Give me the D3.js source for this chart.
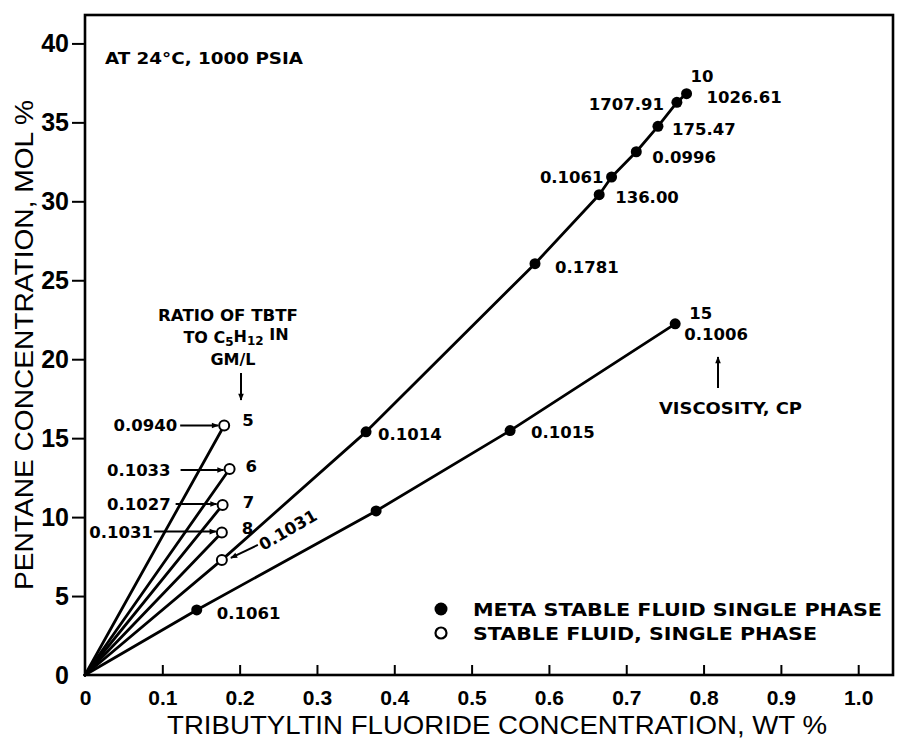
<!DOCTYPE html>
<html>
<head>
<meta charset="utf-8">
<script src="https://cdn.jsdelivr.net/npm/d3@7"></script>
<style>
  html, body { margin: 0; padding: 0; background: #fff; }
  svg { display: block; }
</style>
</head>
<body>
<script>
// Pentane vs tributyltin fluoride (TBTF) concentration at 24 °C, 1000 psia.
// Each line is one TBTF : C5H12 ratio (gm/L); point labels give viscosity in cP.

const xTicks = [0, 0.1, 0.2, 0.3, 0.4, 0.5, 0.6, 0.7, 0.8, 0.9, 1.0];
const xTickLabels = ["0", "0.1", "0.2", "0.3", "0.4", "0.5", "0.6", "0.7", "0.8", "0.9", "1.0"];
const yTicks = [0, 5, 10, 15, 20, 25, 30, 35, 40];
const yTickLabels = ["0", "5", "10", "15", "20", "25", "30", "35", "40"];

// Stable fluid, single phase (open circles)
const stableRatio = ["5", "6", "7", "8", "10"];
const stableTbtf = [0.180, 0.187, 0.178, 0.177, 0.177];
const stablePentane = [15.8, 13.05, 10.77, 9.02, 7.29];
const stableViscosity = ["0.0940", "0.1033", "0.1027", "0.1031", "0.1031"];

// Meta stable fluid, single phase (filled circles) on the ratio-10 line
const meta10Tbtf = [0.3635, 0.582, 0.665, 0.681, 0.713, 0.741, 0.7655, 0.778];
const meta10Pentane = [15.4, 26.05, 30.42, 31.54, 33.14, 34.75, 36.27, 36.82];
const meta10Viscosity = ["0.1014", "0.1781", "136.00", "0.1061", "0.0996", "175.47", "1707.91", "1026.61"];

// Meta stable fluid, single phase (filled circles) on the ratio-15 line
const meta15Tbtf = [0.1445, 0.3765, 0.5498, 0.7633];
const meta15Pentane = [4.12, 10.39, 15.48, 22.24];
const meta15Viscosity = ["0.1061", "", "0.1015", "0.1006"];

const W = 899, H = 742;
const svg = d3.select("body").append("svg").attr("width", W).attr("height", H);

const x = d3.scaleLinear().domain([0, 1.045]).range([85, 893]);
const y = d3.scaleLinear().domain([0, 41.8]).range([675, 15]);

const numFont = "'DejaVu Sans', sans-serif";
const capFont = "'Liberation Sans', Arial, sans-serif";

svg.append("defs").append("marker")
  .attr("id", "head")
  .attr("viewBox", "0 0 10 10")
  .attr("refX", 9).attr("refY", 5)
  .attr("markerWidth", 10).attr("markerHeight", 7)
  .attr("markerUnits", "userSpaceOnUse")
  .attr("orient", "auto")
  .append("path").attr("d", "M0,1 L10,5 L0,9 Z").attr("fill", "#000");

// ----- frame and axes -----
svg.append("rect")
  .attr("x", x(0)).attr("y", y(41.8))
  .attr("width", x(1.045) - x(0)).attr("height", y(0) - y(41.8))
  .attr("fill", "none").attr("stroke", "#000").attr("stroke-width", 2.6);

const xAxis = svg.append("g")
  .attr("transform", `translate(0,${y(0)})`)
  .call(d3.axisBottom(x).tickValues(xTicks)
    .tickFormat((d, i) => xTickLabels[i])
    .tickSize(-10).tickSizeOuter(0).tickPadding(15));
xAxis.select(".domain").remove();
xAxis.selectAll(".tick line").attr("stroke", "#000").attr("stroke-width", 2)
  .attr("display", d => d === 0 ? "none" : null);
xAxis.selectAll(".tick text")
  .attr("font-family", capFont).attr("font-weight", "bold")
  .attr("font-size", 21).attr("fill", "#000");

const yAxis = svg.append("g")
  .attr("transform", `translate(${x(0)},0)`)
  .call(d3.axisLeft(y).tickValues(yTicks)
    .tickFormat((d, i) => yTickLabels[i])
    .tickSize(13).tickSizeOuter(0).tickPadding(3));
yAxis.select(".domain").remove();
yAxis.selectAll(".tick line").attr("stroke", "#000").attr("stroke-width", 2)
  .attr("display", d => d === 0 ? "none" : null);
yAxis.selectAll(".tick text")
  .attr("font-family", capFont).attr("font-weight", "bold")
  .attr("font-size", 25).attr("fill", "#000");

svg.append("text")
  .attr("transform", `translate(24,345) rotate(-90)`)
  .attr("text-anchor", "middle").attr("dy", "0.35em")
  .attr("font-family", capFont).attr("font-size", 25)
  .attr("textLength", 490).attr("lengthAdjust", "spacingAndGlyphs")
  .text("PENTANE CONCENTRATION, MOL %");

svg.append("text")
  .attr("x", 497).attr("y", 725)
  .attr("text-anchor", "middle").attr("dy", "0.35em")
  .attr("font-family", capFont).attr("font-size", 25)
  .attr("textLength", 660).attr("lengthAdjust", "spacingAndGlyphs")
  .text("TRIBUTYLTIN FLUORIDE CONCENTRATION, WT %");

// ----- lines from the origin through each ratio's points -----
const line = d3.line().x(d => x(d[0])).y(d => y(d[1]));
const lines = [];
for (let i = 0; i < 4; i++) lines.push([[0, 0], [stableTbtf[i], stablePentane[i]]]);
lines.push([[0, 0], [stableTbtf[4], stablePentane[4]]]
  .concat(meta10Tbtf.map((v, i) => [v, meta10Pentane[i]])));
lines.push([[0, 0]].concat(meta15Tbtf.map((v, i) => [v, meta15Pentane[i]])));

svg.append("g").selectAll("path").data(lines).join("path")
  .attr("d", line).attr("fill", "none")
  .attr("stroke", "#000").attr("stroke-width", 2.8)
  .attr("stroke-linejoin", "round").attr("stroke-linecap", "round");

// ----- markers -----
const metaPts = meta10Tbtf.map((v, i) => [v, meta10Pentane[i]])
  .concat(meta15Tbtf.map((v, i) => [v, meta15Pentane[i]]));
svg.append("g").selectAll("circle").data(metaPts).join("circle")
  .attr("cx", d => x(d[0])).attr("cy", d => y(d[1])).attr("r", 5.5)
  .attr("fill", "#000");

const stablePts = stableTbtf.map((v, i) => [v, stablePentane[i]]);
svg.append("g").selectAll("circle").data(stablePts).join("circle")
  .attr("cx", d => x(d[0])).attr("cy", d => y(d[1])).attr("r", 5)
  .attr("fill", "#fff").attr("stroke", "#000").attr("stroke-width", 2);

// ----- labels -----
const labelG = svg.append("g")
  .attr("font-family", numFont).attr("font-weight", "bold")
  .attr("font-size", 16.5).attr("fill", "#000");

function label(px, py, dx, dy, txt, anchor) {
  labelG.append("text")
    .attr("x", px + dx).attr("y", py + dy).attr("dy", "0.36em")
    .attr("text-anchor", anchor || "start").text(txt);
}

// viscosity offsets along the ratio-10 line
const meta10Offsets = [[12, 2, "start"], [20, 3, "start"], [16, 2, "start"], [-8, 0, "end"],
  [16, 5, "start"], [14, 3, "start"], [-13, 2, "end"], [20, 3, "start"]];
meta10Tbtf.forEach((v, i) => {
  const o = meta10Offsets[i];
  label(x(v), y(meta10Pentane[i]), o[0], o[1], meta10Viscosity[i], o[2]);
});
label(x(meta10Tbtf[7]), y(meta10Pentane[7]), 4, -18, "10");

const meta15Offsets = [[20, 3], [0, 0], [21, 1], [9, 10]];
meta15Tbtf.forEach((v, i) => {
  if (!meta15Viscosity[i]) return;
  const o = meta15Offsets[i];
  label(x(v), y(meta15Pentane[i]), o[0], o[1], meta15Viscosity[i]);
});
label(x(meta15Tbtf[3]), y(meta15Pentane[3]), 14, -11, "15");

// stable points: viscosity to the left with an arrow, ratio to the right
const stableOffsets = [
  { t: -47, a0: -44, ay: 0, rx: 18, ry: -5 },
  { t: -59, a0: -49, ay: 1, rx: 16, ry: -3 },
  { t: -52, a0: -47, ay: -1, rx: 20, ry: -3 },
  { t: -69, a0: -68, ay: -1, rx: 20, ry: -5 }
];
const arrowG = svg.append("g").attr("stroke", "#000").attr("stroke-width", 2);
for (let i = 0; i < 4; i++) {
  const px = x(stableTbtf[i]), py = y(stablePentane[i]), o = stableOffsets[i];
  label(px, py, o.t, o.ay, stableViscosity[i], "end");
  arrowG.append("line")
    .attr("x1", px + o.a0).attr("y1", py + o.ay)
    .attr("x2", px - 6).attr("y2", py + o.ay)
    .attr("marker-end", "url(#head)");
  label(px, py, o.rx, o.ry, stableRatio[i]);
}
{
  const px = x(stableTbtf[4]), py = y(stablePentane[4]);
  labelG.append("text")
    .attr("transform", `translate(${px + 66},${py - 30}) rotate(-30)`)
    .attr("text-anchor", "middle").attr("dy", "0.36em")
    .text(stableViscosity[4]);
  arrowG.append("line")
    .attr("x1", px + 36).attr("y1", py - 15)
    .attr("x2", px + 9).attr("y2", py - 2)
    .attr("marker-end", "url(#head)");
}

// ----- annotations -----
const noteG = svg.append("g")
  .attr("font-family", numFont).attr("font-weight", "bold")
  .attr("font-size", 16).attr("fill", "#000");

noteG.append("text").attr("x", 105).attr("y", 58).attr("dy", "0.36em")
  .attr("textLength", 198).attr("lengthAdjust", "spacingAndGlyphs")
  .text("AT 24°C, 1000 PSIA");

const ratioNote = noteG.append("g").attr("text-anchor", "middle");
ratioNote.append("text").attr("x", 228).attr("y", 315).attr("dy", "0.36em")
  .attr("textLength", 140).attr("lengthAdjust", "spacingAndGlyphs")
  .text("RATIO OF TBTF");
const t2 = ratioNote.append("text").attr("x", 236).attr("y", 337).attr("dy", "0.36em");
t2.append("tspan").text("TO C");
t2.append("tspan").attr("dy", "0.3em").attr("font-size", 12).text("5");
t2.append("tspan").attr("dy", "-0.3em").text("H");
t2.append("tspan").attr("dy", "0.3em").attr("font-size", 12).text("12");
t2.append("tspan").attr("dy", "-0.3em").text(" IN");
ratioNote.append("text").attr("x", 233).attr("y", 359).attr("dy", "0.36em")
  .text("GM/L");
arrowG.append("line").attr("x1", 241).attr("y1", 373).attr("x2", 241).attr("y2", 400)
  .attr("marker-end", "url(#head)");

noteG.append("text").attr("x", 659).attr("y", 408).attr("dy", "0.36em")
  .attr("textLength", 143).attr("lengthAdjust", "spacingAndGlyphs")
  .text("VISCOSITY, CP");
arrowG.append("line").attr("x1", 718).attr("y1", 388).attr("x2", 718).attr("y2", 357)
  .attr("marker-end", "url(#head)");

// ----- legend -----
const legend = svg.append("g");
legend.append("circle").attr("cx", 441).attr("cy", 609).attr("r", 6.5).attr("fill", "#000");
legend.append("circle").attr("cx", 441).attr("cy", 633).attr("r", 5.5)
  .attr("fill", "#fff").attr("stroke", "#000").attr("stroke-width", 2.2);
legend.append("text").attr("x", 473).attr("y", 610).attr("dy", "0.36em")
  .attr("font-family", numFont).attr("font-weight", "bold").attr("font-size", 17)
  .attr("textLength", 409).attr("lengthAdjust", "spacingAndGlyphs")
  .text("META STABLE FLUID SINGLE PHASE");
legend.append("text").attr("x", 473).attr("y", 634).attr("dy", "0.36em")
  .attr("font-family", numFont).attr("font-weight", "bold").attr("font-size", 17)
  .attr("textLength", 344).attr("lengthAdjust", "spacingAndGlyphs")
  .text("STABLE FLUID, SINGLE PHASE");
</script>
</body>
</html>
